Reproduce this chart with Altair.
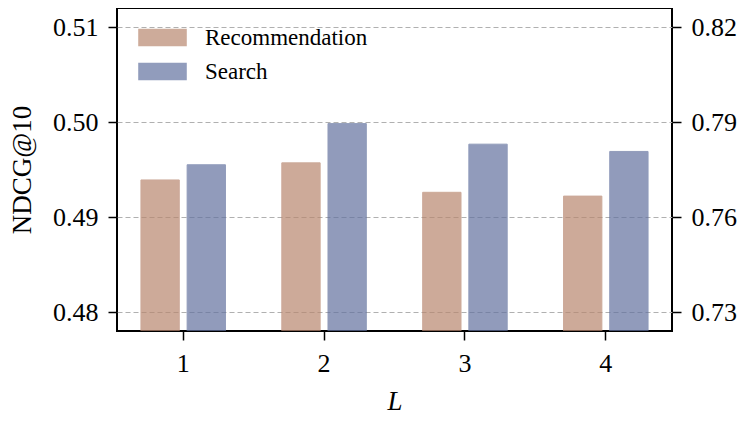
import altair as alt
import pandas as pd

layers_L = ["1", "2", "3", "4"]
series = ["Recommendation", "Search"]
rec_values = [0.4939, 0.4957, 0.4926, 0.4922]
search_values = [0.7765, 0.7895, 0.7830, 0.7807]
left_ticks = [0.48, 0.49, 0.50, 0.51]
right_ticks = [0.73, 0.76, 0.79, 0.82]
colors = ["#B8876F", "#63729F"]

df = pd.DataFrame({
    "L": layers_L * 2,
    "series": [series[0]] * 4 + [series[1]] * 4,
    "value": rec_values + search_values,
})

FONT = "Liberation Serif"

x_enc = alt.X("L:N", sort=layers_L,
              scale=alt.Scale(paddingInner=0.4, paddingOuter=0.17),
              axis=alt.Axis(title="L", labelAngle=0, titleFontStyle="italic",
                            titleFontWeight="normal", labelFont=FONT, titleFont=FONT,
                            labelFontSize=26, titleFontSize=27, tickSize=9,
                            tickWidth=1.5, tickColor="black", domain=False,
                            labelColor="black", titleColor="black",
                            labelPadding=10, titlePadding=12, grid=False))
xoff_enc = alt.XOffset("series:N", sort=series,
                       scale=alt.Scale(domain=series, paddingInner=0.17, paddingOuter=0))
color_enc = alt.Color("series:N", sort=series,
                      scale=alt.Scale(domain=series, range=colors),
                      legend=alt.Legend(title=None, orient="none", legendX=33, legendY=17,
                                        labelFontSize=23, labelFont=FONT, labelColor="black",
                                        labelLimit=400,
                                        symbolType="M-2,-0.72L2,-0.72L2,0.72L-2,0.72Z",
                                        symbolSize=590, symbolOpacity=0.7,
                                        symbolStrokeWidth=0, labelOffset=30,
                                        rowPadding=9, padding=0))

base = alt.Chart(df)

left = base.transform_filter(alt.datum.series == series[0]).mark_bar(
    clip=True, opacity=0.7, stroke=colors[0], strokeWidth=1
).encode(
    x=x_enc,
    xOffset=xoff_enc,
    y=alt.Y("value:Q",
            scale=alt.Scale(domain=[0.478, 0.512], zero=False, nice=False),
            axis=alt.Axis(title="NDCG@10", orient="left", values=left_ticks, format=".2f",
                          grid=True, gridDash=[5, 3], gridColor="#b0b0b0", gridWidth=1.2,
                          domain=False, tickSize=9, tickWidth=1.5, tickColor="black",
                          labelFont=FONT, titleFont=FONT, labelColor="black",
                          titleColor="black",
                          labelFontSize=26, titleFontSize=27, labelPadding=10,
                          titlePadding=16, titleFontWeight="normal")),
    color=color_enc,
)

right = base.transform_filter(alt.datum.series == series[1]).mark_bar(
    clip=True, opacity=0.7, stroke=colors[1], strokeWidth=1
).encode(
    x=x_enc,
    xOffset=xoff_enc,
    y=alt.Y("value:Q",
            scale=alt.Scale(domain=[0.724, 0.826], zero=False, nice=False),
            axis=alt.Axis(title=None, orient="right", values=right_ticks, format=".2f",
                          grid=False, domain=False, tickSize=9, tickWidth=1.5,
                          labelFont=FONT, labelColor="black",
                          tickColor="black", labelFontSize=26, labelPadding=10)),
    color=color_enc,
)

chart = alt.layer(left, right).resolve_scale(y="independent").properties(
    width=555, height=323, background="white", padding=0
).configure_view(
    stroke="black", strokeWidth=2
)

chart.save("out.html", embed_options={"renderer": "svg", "actions": False})
